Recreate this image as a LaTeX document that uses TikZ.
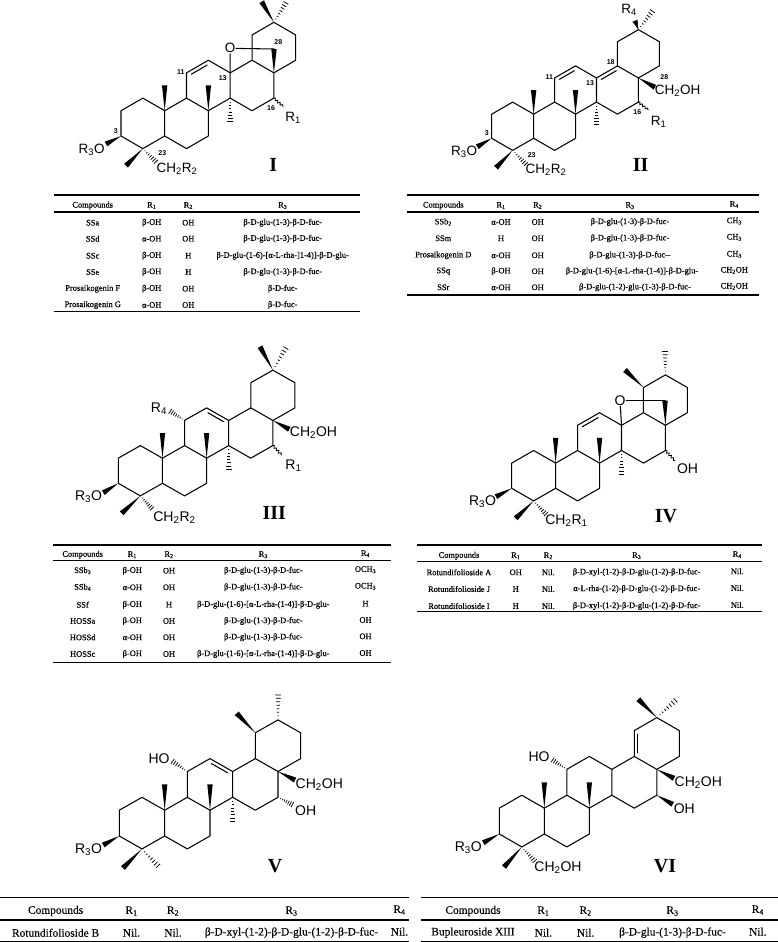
\documentclass[tikz,border=0pt]{standalone}
\usepackage{fontspec}
\setmainfont{Liberation Serif}
\newfontfamily\sansf{Liberation Sans}
\newfontfamily\tabS[FakeBold=0.5]{Liberation Serif}
\newfontfamily\tabL[FakeBold=0.2]{Liberation Serif}
\usetikzlibrary{calc,decorations.pathmorphing}
\def\chemsz{13.5}
\tikzset{
  bond/.style={line width=1.05pt,line join=round,line cap=round},
  hashline/.style={line width=.75pt},
  wavy/.style={line width=.8pt,decorate,decoration={snake,amplitude=1.1pt,segment length=3.3pt}},
  chem/.style={inner sep=.5pt,font=\sansf\fontsize{\chemsz}{14}\selectfont},
  num/.style={inner sep=0pt,font=\sansf\bfseries\fontsize{7}{8}\selectfont},
  roman/.style={inner sep=0pt,font=\rmfamily\bfseries\fontsize{20}{22}\selectfont},
  rule/.style={line width=1.4pt},
  midrule/.style={line width=1.2pt},
  tblS/.style={nodes={inner sep=0pt,font=\tabS\fontsize{8.4}{10}\selectfont}},
  tblL/.style={nodes={inner sep=0pt,font=\tabL\fontsize{11.4}{13}\selectfont}},
}
\newcommand\wdg[2]{\fill (#1) -- ($(#2)!2.7pt!90:(#1)$) -- ($(#2)!2.7pt!-90:(#1)$) -- cycle;}
\newcommand\hsh[2]{\foreach \t in {.16,.29,.42,.55,.68,.81,.94}{%
  \pgfmathsetmacro\hw{\t*3}%
  \draw[hashline] ($(#1)!\t!(#2)!\hw pt!90:(#2)$) -- ($(#1)!\t!(#2)!\hw pt!-90:(#2)$);}}
\newcommand\dbl[2]{\draw[bond] ($(#1)!.14!(#2)!3.6pt!-90:(#2)$) -- ($(#2)!.14!(#1)!3.6pt!90:(#1)$);}
\newcommand\Skel[4]{%
  \begin{scope}[shift={(#1,#2)},x=#3pt,y=-#4pt]
  \coordinate (c3) at (0,0); \coordinate (c2) at (0,-2); \coordinate (c1) at (1,-3);
  \coordinate (c10) at (2,-2); \coordinate (c5) at (2,0); \coordinate (c4) at (1,1);
  \coordinate (c9) at (3,-3); \coordinate (c8) at (4,-2); \coordinate (c7) at (4,0);
  \coordinate (c6) at (3,1); \coordinate (c11) at (3,-5); \coordinate (c12) at (4,-6);
  \coordinate (c13) at (5,-5); \coordinate (c14) at (5,-3); \coordinate (c15) at (6,-2);
  \coordinate (c16) at (7,-3); \coordinate (c17) at (7,-5); \coordinate (c18) at (6,-6);
  \coordinate (c19) at (6,-8); \coordinate (c20) at (7,-9); \coordinate (c21) at (8,-8);
  \coordinate (c22) at (8,-6);
  \coordinate (m10) at (2,-4); \coordinate (m8) at (4,-4); \coordinate (m14) at (5,-1);
  \end{scope}
  \draw[bond] (c3)--(c2)--(c1)--(c10)--(c5)--(c4)--cycle;
  \draw[bond] (c10)--(c9)--(c8)--(c7)--(c6)--(c5);
  \draw[bond] (c9)--(c11)--(c12)--(c13)--(c14)--(c8);
  \draw[bond] (c14)--(c15)--(c16)--(c17)--(c18)--(c13);
  \draw[bond] (c18)--(c19)--(c20)--(c21)--(c22)--(c17);
  \wdg{c10}{m10}\wdg{c8}{m8}}
\newcommand\Cols[4]{\def\xa{#1}\def\xb{#2}\def\xc{#3}\def\xd{#4}}
\newcommand\Row[6]{%
  \node (#1a) at (\xa,#2) {#3}; \node (#1b) at (\xb,#2) {#4};
  \node (#1c) at (\xc,#2) {#5}; \node (#1d) at (\xd,#2) {#6};}
\newcommand\RowF[7]{\Row{#1}{#2}{#3}{#4}{#5}{#6}%
  \node (#1e) at (\xe,#2-1) {#7};}
\newcommand\sbt[1]{\textsubscript{#1}}
\begin{document}
\begin{tikzpicture}[x=1pt,y=-1pt]
\useasboundingbox (0,0) rectangle (778,942);
% ---------- I
\Skel{121}{136}{21.84}{12.63}
\coordinate (e20a) at (261.7,1.7); \coordinate (e20b) at (286.7,1.7);
\coordinate (c28) at (274,49); \coordinate (e3) at (106,144);
\coordinate (e4a) at (126,165.7); \coordinate (e4b) at (156.7,162.7);
\coordinate (e16) at (283.3,106.7);
\node[chem] (oI) at (230,48.3) {O};
\draw[bond] (oI)--(c13); \draw[bond] (oI)--(c28);
\dbl{c11}{c12}
\wdg{c20}{e20a}\hsh{c20}{e20b}\wdg{c17}{c28}\hsh{c14}{m14}\wdg{c3}{e3}\wdg{c4}{e4a}\hsh{c4}{e4b}
\draw[wavy] (c16)--(e16);
\node[chem] (r3I) at (91.7,149.5) {R\sbt{3}O};
\node[chem] (chI) at (177,169) {CH\sbt{2}R\sbt{2}};
\node[chem] (r1I) at (293,118) {R\sbt{1}};
\node[num] (n3I) at (115.7,130.7) {3}; \node[num] (n11I) at (180.7,71.7) {11};
\node[num] (n13I) at (222.7,78.3) {13}; \node[num] (n16I) at (271,108.3) {16};
\node[num] (n23I) at (162.3,152.7) {23}; \node[num] (n28I) at (278.3,41.7) {28};
\node[roman] (lI) at (273.3,165) {I};
% ---------- II
\Skel{491.7}{138.3}{20.96}{12.07}
\coordinate (e20a) at (635,20.7); \coordinate (e20b) at (653.3,10);
\coordinate (e17) at (655,87.3); \coordinate (e3) at (477.3,146.7);
\coordinate (e4a) at (496,167.7); \coordinate (e4b) at (526.7,165);
\coordinate (e16) at (648.3,110);
\dbl{c11}{c12}\dbl{c13}{c18}
\wdg{c20}{e20a}\hsh{c20}{e20b}\wdg{c17}{e17}\hsh{c14}{m14}\wdg{c3}{e3}\wdg{c4}{e4a}\hsh{c4}{e4b}
\draw[wavy] (c16)--(e16);
\node[chem] (r4II) at (629,10) {R\sbt{4}};
\node[chem] (coII) at (677.5,91) {CH\sbt{2}OH};
\node[chem] (r3II) at (464,151.5) {R\sbt{3}O};
\node[chem] (chII) at (546,170) {CH\sbt{2}R\sbt{2}};
\node[chem] (r1II) at (658.7,121.5) {R\sbt{1}};
\node[num] (n3II) at (486.7,133.3) {3}; \node[num] (n11II) at (549.3,77.3) {11};
\node[num] (n13II) at (590,82.7) {13}; \node[num] (n16II) at (637.3,112.3) {16};
\node[num] (n18II) at (610.7,62) {18}; \node[num] (n23II) at (531.7,155) {23};
\node[num] (n28II) at (664.3,77.3) {28};
\node[roman] (lII) at (640.7,165) {II};
% ---------- III
\def\chemsz{14}
\Skel{118.3}{483.3}{22.08}{12.57}
\coordinate (e20a) at (260,346.7); \coordinate (e20b) at (286.7,346.7);
\coordinate (e17) at (289.3,429.3); \coordinate (e3) at (103.3,492.7);
\coordinate (e4a) at (121.7,513.3); \coordinate (e4b) at (152.7,509.3);
\coordinate (e16) at (281.7,455); \coordinate (e11) at (169.3,410.7);
\dbl{c12}{c13}
\wdg{c20}{e20a}\hsh{c20}{e20b}\wdg{c17}{e17}\hsh{c14}{m14}\wdg{c3}{e3}\wdg{c4}{e4a}\hsh{c4}{e4b}\hsh{c11}{e11}
\draw[wavy] (c16)--(e16);
\node[chem] (r4III) at (159,408.5) {R\sbt{4}};
\node[chem] (coIII) at (313.5,433) {CH\sbt{2}OH};
\node[chem] (r3III) at (88.5,497) {R\sbt{3}O};
\node[chem] (chIII) at (174.5,517.5) {CH\sbt{2}R\sbt{2}};
\node[chem] (r1III) at (293.5,466) {R\sbt{1}};
\node[roman] (lIII) at (274.3,513) {III};
% ---------- IV
\Skel{511.7}{488.3}{21.96}{12.6}
\coordinate (e20a) at (625,370); \coordinate (e20b) at (665,350);
\coordinate (c28) at (665,400.7); \coordinate (e3) at (496,496.7);
\coordinate (e4a) at (515.7,518.3); \coordinate (e4b) at (546.7,515);
\coordinate (e16) at (675,460.7);
\node[chem] (oIV) at (620,400.7) {O};
\draw[bond] (oIV)--(c13); \draw[bond] (oIV)--(c28);
\dbl{c11}{c12}
\wdg{c19}{e20a}\hsh{c20}{e20b}\wdg{c17}{c28}\hsh{c14}{m14}\wdg{c3}{e3}\wdg{c4}{e4a}\hsh{c4}{e4b}
\draw[wavy] (c16)--(e16);
\node[chem] (ohIV) at (687.5,468.5) {OH};
\node[chem] (r3IV) at (482.5,502) {R\sbt{3}O};
\node[chem] (chIV) at (566.5,520.5) {CH\sbt{2}R\sbt{1}};
\node[roman] (lIV) at (666,515.7) {IV};
% ---------- V
\Skel{119.3}{836}{22.67}{12.9}
\coordinate (e19) at (236.7,713.3); \coordinate (e20b) at (278.3,693.3);
\coordinate (e17) at (295,780); \coordinate (e16) at (293.3,805);
\coordinate (e11) at (171.7,760.7); \coordinate (e3) at (103.3,845);
\coordinate (e4a) at (123,868); \coordinate (e4b) at (159,867);
\dbl{c12}{c13}
\wdg{c19}{e19}\hsh{c20}{e20b}\wdg{c17}{e17}\hsh{c14}{m14}\wdg{c3}{e3}\wdg{c4}{e4a}\hsh{c4}{e4b}\hsh{c11}{e11}\hsh{c16}{e16}
\node[chem] (hoV) at (159,758.3) {HO};
\node[chem] (coV) at (319.3,785) {CH\sbt{2}OH};
\node[chem] (ohV) at (305.7,810.7) {OH};
\node[chem] (r3V) at (88.5,850) {R\sbt{3}O};
\node[roman] (lV) at (275,866) {V};
% ---------- VI
\Skel{499.3}{834}{22.5}{12.93}
\coordinate (e20a) at (638.3,699.3); \coordinate (e20b) at (676.7,699.3);
\coordinate (e17) at (674,778.3); \coordinate (e16) at (672.7,804.3);
\coordinate (e11) at (551.7,759.3); \coordinate (e3) at (483.3,842.7);
\coordinate (e4a) at (504,867); \coordinate (e4b) at (535.5,862);
\dbl{c18}{c19}
\wdg{c20}{e20a}\hsh{c20}{e20b}\wdg{c17}{e17}\wdg{c16}{e16}\wdg{c3}{e3}\wdg{c4}{e4a}\hsh{c4}{e4b}\hsh{c11}{e11}
\node[chem] (hoVI) at (539,756.7) {HO};
\node[chem] (coVI) at (698.3,783) {CH\sbt{2}OH};
\node[chem] (ohVI) at (684.3,808.3) {OH};
\node[chem] (r3VI) at (468.3,848) {R\sbt{3}O};
\node[chem] (c2VI) at (558,867.5) {CH\sbt{2}OH};
\node[roman] (lVI) at (665,866) {VI};
% ---------- Table I
\begin{scope}[tblS]
\coordinate (ta1) at (54,195); \coordinate (ta2) at (360,195);
\coordinate (ta3) at (54,212); \coordinate (ta4) at (360,212);
\coordinate (ta5) at (54,311.5); \coordinate (ta6) at (360,311.5);
\draw[rule] (ta1)--(ta2); \draw[midrule] (ta3)--(ta4); \draw[rule] (ta5)--(ta6);
\Cols{92.7}{151.7}{188.3}{282.7}
\Row{aH}{205.5}{Compounds}{R\sbt{1}}{R\sbt{2}}{R\sbt{3}}
\Row{a1}{222.7}{SSa}{β-OH}{OH}{β-D-glu-(1-3)-β-D-fuc-}
\Row{a2}{238.7}{SSd}{α-OH}{OH}{β-D-glu-(1-3)-β-D-fuc-}
\Row{a3}{255.7}{SSc}{β-OH}{H}{β-D-glu-(1-6)-[α-L-rha-]1-4)]-β-D-glu-}
\Row{a4}{272}{SSe}{β-OH}{H}{β-D-glu-(1-3)-β-D-fuc-}
\Row{a5}{288.7}{Prosaikogenin F}{β-OH}{OH}{β-D-fuc-}
\Row{a6}{305}{Prosaikogenin G}{α-OH}{OH}{β-D-fuc-}
\end{scope}
% ---------- Table II
\begin{scope}[tblS]
\coordinate (tb1) at (406.7,195); \coordinate (tb2) at (759,195);
\coordinate (tb3) at (406.7,212); \coordinate (tb4) at (759,212);
\coordinate (tb5) at (406.7,295); \coordinate (tb6) at (759,295);
\draw[rule] (tb1)--(tb2); \draw[midrule] (tb3)--(tb4); \draw[rule] (tb5)--(tb6);
\Cols{443.3}{501}{537.7}{630}\def\xe{734.3}
\RowF{bH}{205.5}{Compounds}{R\sbt{1}}{R\sbt{2}}{R\sbt{3}}{R\sbt{4}}
\RowF{b1}{222}{SSb\sbt{2}}{α-OH}{OH}{β-D-glu-(1-3)-β-D-fuc-}{CH\sbt{3}}
\RowF{b2}{238.3}{SSm}{H}{OH}{β-D-glu-(1-3)-β-D-fuc-}{CH\sbt{3}}
\RowF{b3}{255.3}{Prosaikogenin D}{α-OH}{OH}{β-D-glu-(1-3)-β-D-fuc--}{CH\sbt{3}}
\Cols{443.3}{501}{537.7}{632}
\RowF{b4}{271.3}{SSq}{β-OH}{OH}{β-D-glu-(1-6)-[α-L-rha-(1-4)]-β-D-glu-}{CH\sbt{2}OH}
\Cols{443.3}{501}{537.7}{635}
\RowF{b5}{287.3}{SSr}{α-OH}{OH}{β-D-glu-(1-2)-glu-(1-3)-β-D-fuc-}{CH\sbt{2}OH}
\end{scope}
% ---------- Table III
\begin{scope}[tblS]
\coordinate (tc1) at (52.7,545); \coordinate (tc2) at (390.7,545);
\coordinate (tc3) at (52.7,560.7); \coordinate (tc4) at (390.7,560.7);
\coordinate (tc5) at (52.7,662.3); \coordinate (tc6) at (390.7,662.3);
\draw[rule] (tc1)--(tc2); \draw[midrule] (tc3)--(tc4); \draw[rule] (tc5)--(tc6);
\Cols{82.7}{132.3}{169}{263.3}\def\xe{365.5}
\RowF{cH}{554.7}{Compounds}{R\sbt{1}}{R\sbt{2}}{R\sbt{3}}{R\sbt{4}}
\RowF{c1}{570.7}{SSb\sbt{3}}{β-OH}{OH}{β-D-glu-(1-3)-β-D-fuc-}{OCH\sbt{3}}
\RowF{c2}{587.3}{SSb\sbt{4}}{α-OH}{OH}{β-D-glu-(1-3)-β-D-fuc-}{OCH\sbt{3}}
\RowF{c3}{604.7}{SSf}{β-OH}{H}{β-D-glu-(1-6)-[α-L-rha-(1-4)]-β-D-glu-}{H}
\RowF{c4}{621}{HOSSa}{β-OH}{OH}{β-D-glu-(1-3)-β-D-fuc-}{OH}
\RowF{c5}{637.3}{HOSSd}{α-OH}{OH}{β-D-glu-(1-3)-β-D-fuc-}{OH}
\RowF{c6}{654}{HOSSc}{β-OH}{OH}{β-D-glu-(1-6)-[α-L-rha-(1-4)]-β-D-glu-}{OH}
\end{scope}
% ---------- Table IV
\begin{scope}[tblS]
\coordinate (td1) at (417.3,545); \coordinate (td2) at (761.7,545);
\coordinate (td3) at (417.3,561.7); \coordinate (td4) at (761.7,561.7);
\coordinate (td5) at (417.3,611.7); \coordinate (td6) at (761.7,611.7);
\draw[rule] (td1)--(td2); \draw[midrule] (td3)--(td4); \draw[rule] (td5)--(td6);
\Cols{459}{515.7}{548.3}{636.7}\def\xe{737.3}
\RowF{dH}{555.7}{Compounds}{R\sbt{1}}{R\sbt{2}}{R\sbt{3}}{R\sbt{4}}
\RowF{d1}{572.3}{Rotundifolioside A}{OH}{Nil.}{β-D-xyl-(1-2)-β-D-glu-(1-2)-β-D-fuc-}{Nil.}
\RowF{d2}{589}{Rotundifolioside J}{H}{Nil.}{α-L-rha-(1-2)-β-D-glu-(1-2)-β-D-fuc-}{Nil.}
\RowF{d3}{606}{Rotundifolioside I}{H}{Nil.}{β-D-xyl-(1-2)-β-D-glu-(1-2)-β-D-fuc-}{Nil.}
\end{scope}
% ---------- Table V
\begin{scope}[tblL]
\coordinate (te1) at (0,897.3); \coordinate (te2) at (409,897.3);
\coordinate (te3) at (0,920); \coordinate (te4) at (409,920);
\coordinate (te5) at (0,941.3); \coordinate (te6) at (409,941.3);
\draw[rule] (te1)--(te2); \draw[midrule] (te3)--(te4); \draw[rule] (te5)--(te6);
\Cols{55.6}{131.5}{173}{291.5}\def\xe{399.5}
\RowF{eH}{911}{Compounds}{R\sbt{1}}{R\sbt{2}}{R\sbt{3}}{R\sbt{4}}
\RowF{e1}{932.7}{Rotundifolioside B}{Nil.}{Nil.}{β-D-xyl-(1-2)-β-D-glu-(1-2)-β-D-fuc-}{Nil.}
\end{scope}
% ---------- Table VI
\begin{scope}[tblL]
\coordinate (tf1) at (420.8,897.3); \coordinate (tf2) at (778,897.3);
\coordinate (tf3) at (420.8,920); \coordinate (tf4) at (778,920);
\coordinate (tf5) at (420.8,941.3); \coordinate (tf6) at (778,941.3);
\draw[rule] (tf1)--(tf2); \draw[midrule] (tf3)--(tf4); \draw[rule] (tf5)--(tf6);
\Cols{473}{543.4}{585.6}{672.5}\def\xe{757.8}
\RowF{fH}{911}{Compounds}{R\sbt{1}}{R\sbt{2}}{R\sbt{3}}{R\sbt{4}}
\RowF{f1}{932.7}{Bupleuroside XIII}{Nil.}{Nil.}{β-D-glu-(1-3)-β-D-fuc-}{Nil.}
\end{scope}
\end{tikzpicture}
\end{document}
